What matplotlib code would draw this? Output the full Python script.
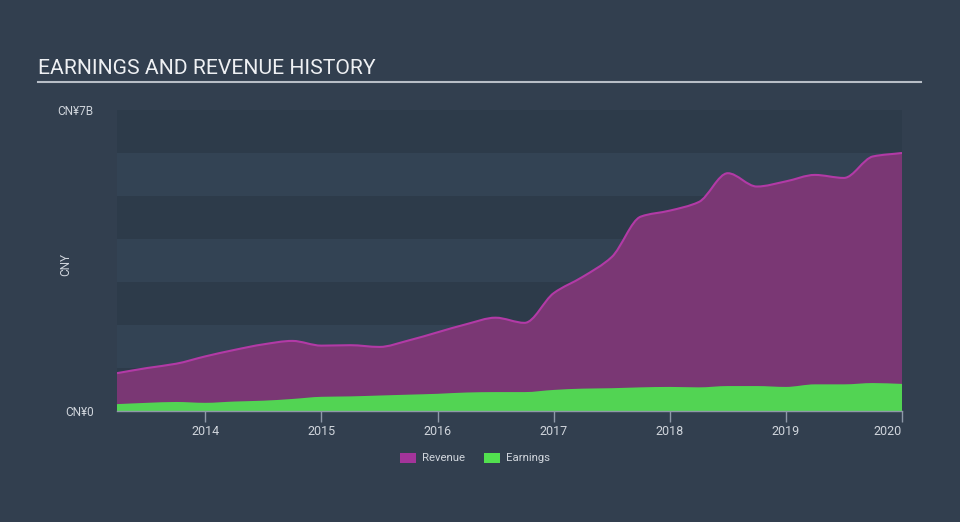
import matplotlib
matplotlib.use("Agg")
import matplotlib.pyplot as plt
from matplotlib.patches import Patch, PathPatch
from matplotlib.path import Path
import numpy as np

plt.rcParams['font.family'] = ['Roboto', 'DejaVu Sans']

years = [2013.24, 2013.5, 2013.75, 2014.0, 2014.25, 2014.5, 2014.75, 2015.0, 2015.25, 2015.5,
         2015.75, 2016.0, 2016.25, 2016.5, 2016.75, 2017.0, 2017.25, 2017.5, 2017.75, 2018.0,
         2018.25, 2018.5, 2018.75, 2019.0, 2019.25, 2019.5, 2019.75, 2020.0]
revenue = [0.88, 1.00, 1.10, 1.27, 1.42, 1.55, 1.63, 1.52, 1.53, 1.49,
           1.64, 1.83, 2.02, 2.17, 2.05, 2.74, 3.12, 3.58, 4.52, 4.66,
           4.86, 5.53, 5.22, 5.34, 5.49, 5.42, 5.92, 6.00]
earnings = [0.16, 0.19, 0.21, 0.19, 0.22, 0.24, 0.28, 0.33, 0.34, 0.36,
            0.38, 0.40, 0.43, 0.44, 0.44, 0.49, 0.52, 0.53, 0.55, 0.56,
            0.55, 0.58, 0.58, 0.56, 0.62, 0.62, 0.65, 0.63]
tick_years = [2014, 2015, 2016, 2017, 2018, 2019, 2020]
ytick_vals = [0, 7]
ytick_labels = ["CN¥0", "CN¥7B"]


def monotone_path_verts(x, y):
    """Bezier control vertices of a monotone cubic curve through the points."""
    x = np.asarray(x, float)
    y = np.asarray(y, float)
    n = len(x)
    h = np.diff(x)
    d = np.diff(y) / h
    m = np.zeros(n)
    m[0], m[-1] = d[0], d[-1]
    for i in range(1, n - 1):
        if d[i - 1] * d[i] <= 0:
            m[i] = 0
        else:
            w1 = 2 * h[i] + h[i - 1]
            w2 = h[i] + 2 * h[i - 1]
            m[i] = (w1 + w2) / (w1 / d[i - 1] + w2 / d[i])
    verts = [(x[0], y[0])]
    codes = [Path.MOVETO]
    for i in range(n - 1):
        verts += [(x[i] + h[i] / 3, y[i] + m[i] * h[i] / 3),
                  (x[i + 1] - h[i] / 3, y[i + 1] - m[i + 1] * h[i] / 3),
                  (x[i + 1], y[i + 1])]
        codes += [Path.CURVE4] * 3
    return verts, codes


def area(ax, x, y, fill, line=None, z=2):
    verts, codes = monotone_path_verts(x, y)
    fv = verts + [(x[-1], 0), (x[0], 0), (x[0], y[0])]
    fc = codes + [Path.LINETO, Path.LINETO, Path.CLOSEPOLY]
    ax.add_patch(PathPatch(Path(fv, fc), facecolor=fill, edgecolor='none', zorder=z))
    if line:
        ax.add_patch(PathPatch(Path(verts, codes), facecolor='none', edgecolor=line,
                               lw=1.5, zorder=z + 1))


BG = "#323f4f"
fig = plt.figure(figsize=(9.6, 5.22), dpi=100, facecolor=BG)
ax = fig.add_axes([117/960, 1-411/522, (902-117)/960, (411-110)/522])
ax.set_facecolor(BG)

for i in range(7):
    col = "#2d3b4a" if i % 2 == 0 else "#334354"
    ax.axhspan(6 - i, 7 - i, color=col, zorder=0, lw=0)

area(ax, years, revenue, "#7a3774", line="#b23aa6", z=2)
area(ax, years, earnings, "#52d453", z=4)

ax.set_xlim(years[0], 2020.0)
ax.set_ylim(0, 7)

for s in ['top', 'right', 'left']:
    ax.spines[s].set_visible(False)
ax.spines['bottom'].set_color("#8e99a8")
ax.spines['bottom'].set_linewidth(1)
ax.spines['bottom'].set_zorder(6)

ax.set_xticks(tick_years)
ax.set_xticklabels([str(y) for y in tick_years], color="#d0d5dc", fontsize=9)
labs = ax.get_xticklabels()
labs[-1].set_ha('right')
ax.tick_params(axis='x', length=8, color="#8e99a8", width=1, pad=2)

ax.set_yticks(ytick_vals)
ax.set_yticklabels(ytick_labels, color="#d0d5dc", fontsize=8.5)
ax.tick_params(axis='y', length=0, pad=17)

fig.text(66/960, 1-264/522, "CNY", rotation=90, color="#d0d5dc", fontsize=8.5,
         ha='center', va='center')

fig.text(38/960, 1-68/522, "EARNINGS AND REVENUE HISTORY", color="#eef0f3",
         fontsize=15.2, ha='left', va='center')
fig.add_artist(plt.Line2D([38/960, 921/960], [1-82/522, 1-82/522], color="#b8bec7", lw=1.5))

handles = [Patch(facecolor="#a3349a", label="Revenue"), Patch(facecolor="#52e04f", label="Earnings")]
leg = fig.legend(handles=handles, loc='center', bbox_to_anchor=(475/960, 1-458/522), ncol=2,
                 frameon=False, fontsize=8.2, handlelength=1.4, handleheight=1.0,
                 columnspacing=1.7, handletextpad=0.5)
for t in leg.get_texts():
    t.set_color("#d0d5dc")

fig.savefig("out.png", dpi=100, facecolor=BG)
